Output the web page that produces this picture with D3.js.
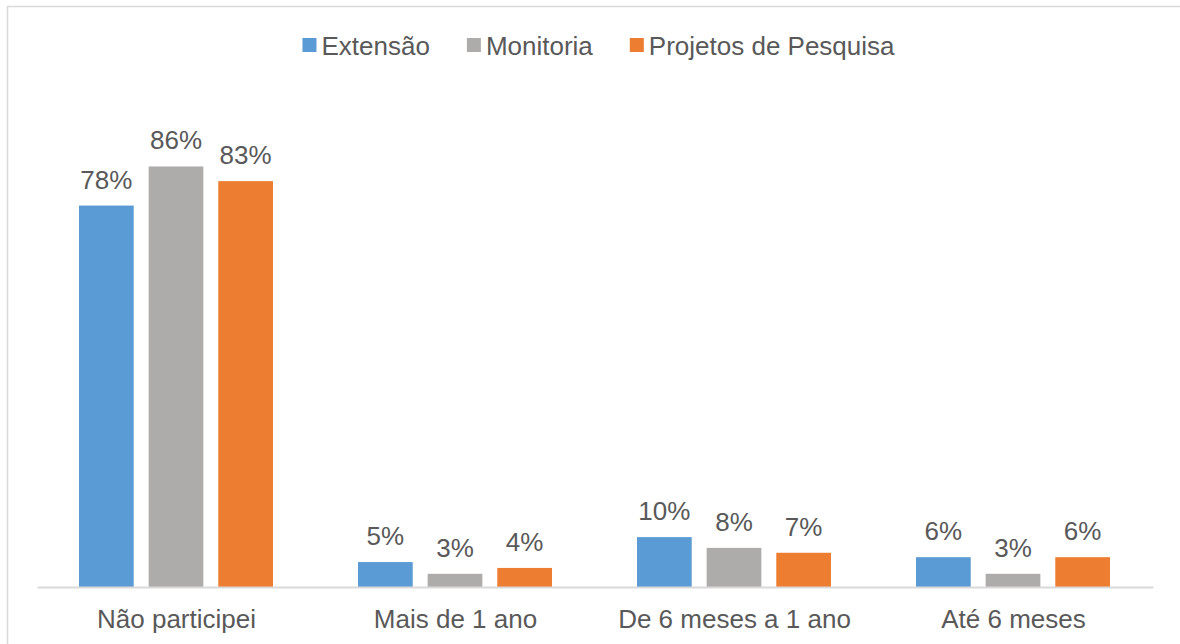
<!DOCTYPE html>
<html>
<head>
<meta charset="utf-8">
<script src="https://cdn.jsdelivr.net/npm/d3@7"></script>
<style>
  html, body { margin: 0; padding: 0; background: #fff; }
  svg { display: block; }
  text { font-family: "Liberation Sans", Arial, sans-serif; fill: #595959; }
</style>
</head>
<body>
<svg id="chart" width="1180" height="644"></svg>
<script>
const categories = ["Não participei", "Mais de 1 ano", "De 6 meses a 1 ano", "Até 6 meses"];
const seriesNames = ["Extensão", "Monitoria", "Projetos de Pesquisa"];
const seriesColors = ["#5B9BD5", "#AEABAB", "#ED7D31"];
const extensao = [0.78, 0.051, 0.102, 0.061];
const monitoria = [0.86, 0.027, 0.08, 0.027];
const projetos = [0.83, 0.039, 0.07, 0.061];
const seriesValues = [extensao, monitoria, projetos];

const svg = d3.select("#chart");

// outer border (extends past right/bottom edges as in reference)
svg.append("rect")
  .attr("x", 7.5).attr("y", 6.5)
  .attr("width", 1200).attr("height", 700)
  .attr("fill", "none").attr("stroke", "#D9D9D9").attr("stroke-width", 1.5);

const x0 = d3.scaleBand().domain(categories).range([37, 1153]).padding(0);
const x1 = d3.scaleBand().domain(seriesNames).range([42, 236]).paddingInner(15 / 70).paddingOuter(0);
const y = d3.scaleLinear().domain([0, 1]).range([587, 98]);
const fmt = d3.format(".0%");

const groups = svg.append("g").selectAll("g")
  .data(categories)
  .join("g")
  .attr("transform", d => `translate(${x0(d)},0)`);

groups.selectAll("rect")
  .data((c, ci) => seriesNames.map((s, si) => ({ s, si, v: seriesValues[si][ci] })))
  .join("rect")
  .attr("x", d => x1(d.s))
  .attr("width", x1.bandwidth())
  .attr("y", d => y(d.v))
  .attr("height", d => y(0) - y(d.v))
  .attr("fill", d => seriesColors[d.si]);

groups.selectAll("text.lbl")
  .data((c, ci) => seriesNames.map((s, si) => ({ s, si, v: seriesValues[si][ci] })))
  .join("text")
  .attr("class", "lbl")
  .attr("x", d => x1(d.s) + x1.bandwidth() / 2)
  .attr("y", d => y(d.v) - 17)
  .attr("text-anchor", "middle")
  .attr("font-size", 26)
  .text(d => fmt(d.v));

// baseline / category axis
const xAxis = d3.axisBottom(x0).tickSize(0).tickPadding(0);
const ax = svg.append("g").attr("transform", `translate(0,${y(0)})`).call(xAxis);
ax.select(".domain").attr("stroke", "#D9D9D9").attr("stroke-width", 2);
ax.selectAll(".tick text")
  .attr("y", 41)
  .attr("dy", null)
  .attr("font-size", 26)
  .attr("font-family", "Liberation Sans, Arial, sans-serif")
  .attr("fill", "#595959");

// legend
const legend = svg.append("g");
let lx = 0;
const items = seriesNames.map((s, i) => {
  const g = legend.append("g");
  g.append("rect").attr("x", 0).attr("y", 38).attr("width", 14).attr("height", 14).attr("fill", seriesColors[i]);
  const t = g.append("text").attr("x", 19).attr("y", 55).attr("font-size", 26).text(s);
  const w = 19 + t.node().getComputedTextLength();
  g.attr("transform", `translate(${lx},0)`);
  lx += w + 37;
  return w;
});
const totalW = lx - 37;
legend.attr("transform", `translate(${598.5 - totalW / 2},0)`);
</script>
</body>
</html>
